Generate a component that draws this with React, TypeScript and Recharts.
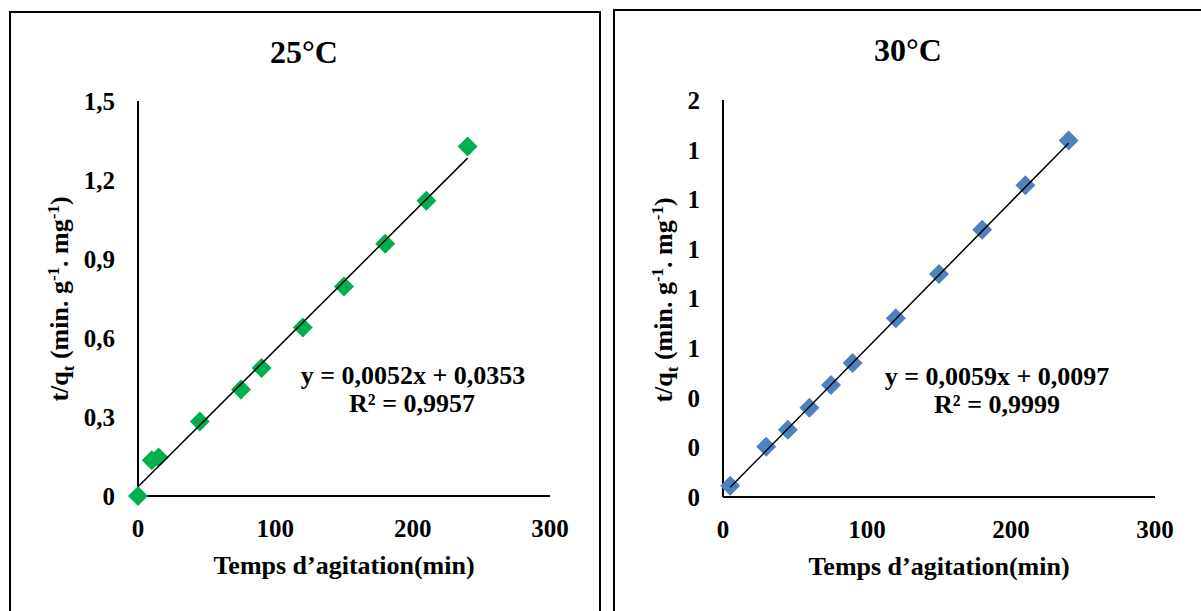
import React from "react";
import { ScatterChart, Scatter, XAxis, YAxis } from "recharts";

// 25°C kinetics points (t in min, t/qt)
const time25 = [0, 10, 15, 45, 75, 90, 120, 150, 180, 210, 240];
const ratio25 = [0.0, 0.136, 0.146, 0.283, 0.404, 0.486, 0.64, 0.796, 0.958, 1.121, 1.327];
const trendX25 = [0, 240];
const trendY25 = [0.035, 1.283];

// 30°C
const time30 = [5, 30, 45, 60, 75, 90, 120, 150, 180, 210, 240];
const ratio30 = [0.045, 0.203, 0.271, 0.36, 0.451, 0.54, 0.72, 0.899, 1.077, 1.256, 1.437];
const trendX30 = [5, 240];
const trendY30 = [0.039, 1.426];

const xTicks = [0, 100, 200, 300];
const yTicks25 = [0, 0.3, 0.6, 0.9, 1.2, 1.5];
const yTicks30 = [0, 0.2, 0.4, 0.6, 0.8, 1.0, 1.2, 1.4, 1.6];

const FONT = "'Liberation Serif', 'Times New Roman', serif";

const zip = (xs: number[], ys: number[]) => xs.map((x, i) => ({ x, y: ys[i] }));

const Diamond = (color: string) => (props: any) => {
  const { cx, cy } = props;
  const r = 10;
  return (
    <polygon
      points={`${cx},${cy - r} ${cx + r},${cy} ${cx},${cy + r} ${cx - r},${cy}`}
      fill={color}
    />
  );
};

const noDot = () => <g />;

const tickStyle = { fontFamily: FONT, fontSize: 25, fontWeight: 700, fill: "#000" };
const axisLine = { stroke: "#000", strokeWidth: 2 };

const text = (extra: React.CSSProperties): React.CSSProperties => ({
  position: "absolute",
  fontFamily: FONT,
  fontWeight: 700,
  color: "#000",
  whiteSpace: "nowrap",
  lineHeight: 1,
  ...extra,
});

function YLabel({ left, top }: { left: number; top: number }) {
  return (
    <div
      style={text({
        left,
        top,
        fontSize: 26,
        transform: "translate(-50%, -50%) rotate(-90deg)",
      })}
    >
      t/q<sub style={{ fontSize: 17 }}>t</sub> (min. g<sup style={{ fontSize: 17 }}>-1</sup>. mg
      <sup style={{ fontSize: 17 }}>-1</sup>)
    </div>
  );
}

function Panel(props: {
  left: number;
  top: number;
  width: number;
  height: number;
  margin: { top: number; right: number; bottom: number; left: number };
  points: { x: number; y: number }[];
  trend: { x: number; y: number }[];
  color: string;
  yTicks: number[];
  yMax: number;
  fmt: (v: number) => string;
}) {
  return (
    <div style={{ position: "absolute", left: props.left, top: props.top }}>
      <ScatterChart width={props.width} height={props.height} margin={props.margin}>
        <XAxis
          type="number"
          dataKey="x"
          domain={[0, 300]}
          ticks={xTicks}
          tick={tickStyle}
          tickLine={false}
          tickSize={0}
          tickMargin={23}
          axisLine={axisLine}
          height={40}
        />
        <YAxis
          type="number"
          dataKey="y"
          domain={[0, props.yMax]}
          ticks={props.yTicks}
          tickFormatter={props.fmt}
          tick={tickStyle}
          tickLine={false}
          tickSize={0}
          tickMargin={23}
          axisLine={axisLine}
          width={60}
        />
        <Scatter
          data={props.points}
          shape={Diamond(props.color)}
          isAnimationActive={false}
        />
        <Scatter
          data={props.trend}
          line={{ stroke: "#000", strokeWidth: 1.5 }}
          shape={noDot}
          isAnimationActive={false}
        />
      </ScatterChart>
    </div>
  );
}

export default function App() {
  return (
    <div style={{ position: "absolute", left: 0, top: 0, width: 1201, height: 611, background: "#fff", overflow: "hidden" }}>
      {/* frames */}
      <div style={{ position: "absolute", left: 9, top: 11, width: 588, height: 640, border: "2px solid #000" }} />
      <div style={{ position: "absolute", left: 613, top: 9, width: 640, height: 640, border: "2px solid #000" }} />

      <Panel
        left={9}
        top={10}
        width={591}
        height={601}
        margin={{ top: 91, right: 50, bottom: 75, left: 69 }}
        points={zip(time25, ratio25)}
        trend={zip(trendX25, trendY25)}
        color="#00B050"
        yTicks={yTicks25}
        yMax={1.5}
        fmt={(v) => (v === 0 ? "0" : v.toFixed(1).replace(".", ","))}
      />
      <Panel
        left={613}
        top={9}
        width={588}
        height={602}
        margin={{ top: 91, right: 46, bottom: 74, left: 50 }}
        points={zip(time30, ratio30)}
        trend={zip(trendX30, trendY30)}
        color="#4F81BD"
        yTicks={yTicks30}
        yMax={1.6}
        fmt={(v) => v.toFixed(0)}
      />

      <div style={text({ left: 304, top: 52, fontSize: 32, transform: "translate(-50%, -50%)" })}>25°C</div>
      <div style={text({ left: 908, top: 50, fontSize: 32, transform: "translate(-50%, -50%)" })}>30°C</div>

      <div style={text({ left: 413, top: 376, fontSize: 26, transform: "translate(-50%, -50%)" })}>y = 0,0052x + 0,0353</div>
      <div style={text({ left: 412, top: 404, fontSize: 26, transform: "translate(-50%, -50%)" })}>R² = 0,9957</div>
      <div style={text({ left: 997, top: 377, fontSize: 26, transform: "translate(-50%, -50%)" })}>y = 0,0059x + 0,0097</div>
      <div style={text({ left: 997, top: 405, fontSize: 26, transform: "translate(-50%, -50%)" })}>R² = 0,9999</div>

      <div style={text({ left: 344, top: 566, fontSize: 26, transform: "translate(-50%, -50%)" })}>Temps d’agitation(min)</div>
      <div style={text({ left: 939, top: 567, fontSize: 26, transform: "translate(-50%, -50%)" })}>Temps d’agitation(min)</div>

      <YLabel left={61} top={299} />
      <YLabel left={665} top={300} />
    </div>
  );
}
